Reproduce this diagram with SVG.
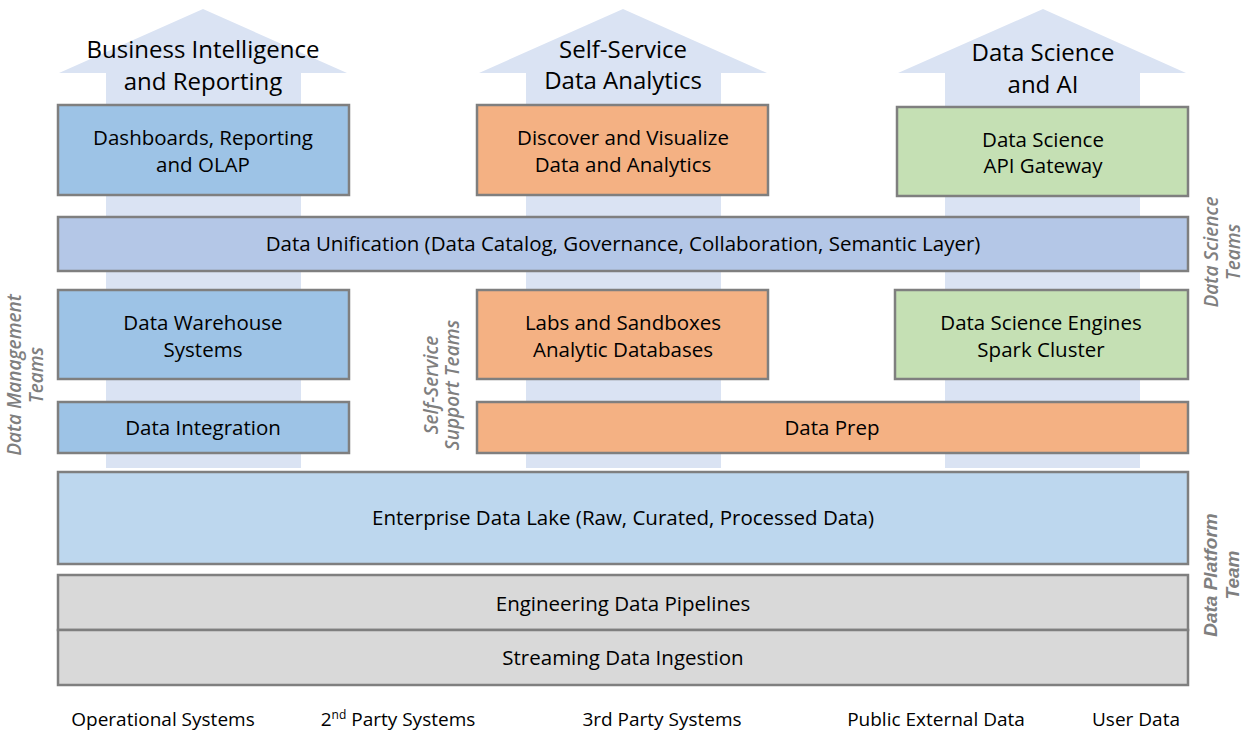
<svg xmlns="http://www.w3.org/2000/svg" width="1244" height="734" viewBox="0 0 1244 734">
<style>
.arrow{fill:#dae3f3}
.box{stroke:#7f7f7f;stroke-width:2.5}
.blue{fill:#9dc3e6}
.orange{fill:#f4b183}
.green{fill:#c5e0b4}
.uni{fill:#b4c7e7}
.lake{fill:#bdd7ee}
.grey{fill:#d9d9d9}
text{font-family:"Open Sans","Noto Sans",sans-serif;fill:#000;text-anchor:middle}
.t{font-size:20.5px}
.h{font-size:24px}
.side{font-size:19px;font-style:italic;font-weight:600;fill:#7f7f7f}
.side2{font-family:"Liberation Sans",Arial,sans-serif;font-size:19px;font-style:italic;font-weight:bold;fill:#7f7f7f}
.src{font-size:19px}
</style>
<g id="connectors">
<polygon id="arrow-bi" class="arrow" points="203,9 347,73 301,73 301,468 106,468 106,73 59,73"/>
<polygon id="arrow-ss" class="arrow" points="623,9 767,73 721,73 721,468 526,468 526,73 479,73"/>
<polygon id="arrow-ds" class="arrow" points="1043,9 1186,73 1140,73 1140,468 945,468 945,73 898,73"/>
</g>
<g id="title-bi"><text class="h" x="203" y="58">Business Intelligence</text><text class="h" x="203" y="90">and Reporting</text></g>
<g id="title-ss"><text class="h" x="623" y="58">Self-Service</text><text class="h" x="623" y="89">Data Analytics</text></g>
<g id="title-ds"><text class="h" x="1043" y="61">Data Science</text><text class="h" x="1043" y="93">and AI</text></g>

<g id="dashboards"><rect class="box blue" x="58" y="105" width="291" height="90"/><text class="t" x="203" y="145">Dashboards, Reporting</text><text class="t" x="203" y="172">and OLAP</text></g>
<g id="discover"><rect class="box orange" x="477" y="105" width="291" height="90"/><text class="t" x="623" y="145">Discover and Visualize</text><text class="t" x="623" y="172">Data and Analytics</text></g>
<g id="api-gateway"><rect class="box green" x="897" y="107" width="291" height="89"/><text class="t" x="1043" y="147">Data Science</text><text class="t" x="1043" y="173">API Gateway</text></g>

<g id="unification"><rect class="box uni" x="58" y="217" width="1130" height="54"/><text class="t" x="623" y="251">Data Unification (Data Catalog, Governance, Collaboration, Semantic Layer)</text></g>

<g id="warehouse"><rect class="box blue" x="58" y="290" width="291" height="89"/><text class="t" x="203" y="330">Data Warehouse</text><text class="t" x="203" y="357">Systems</text></g>
<g id="labs"><rect class="box orange" x="477" y="290" width="291" height="89"/><text class="t" x="623" y="330">Labs and Sandboxes</text><text class="t" x="623" y="357">Analytic Databases</text></g>
<g id="engines"><rect class="box green" x="895" y="290" width="293" height="89"/><text class="t" x="1041" y="330">Data Science Engines</text><text class="t" x="1041" y="357">Spark Cluster</text></g>

<g id="integration"><rect class="box blue" x="58" y="402" width="291" height="51"/><text class="t" x="203" y="435">Data Integration</text></g>
<g id="prep"><rect class="box orange" x="477" y="402" width="711" height="51"/><text class="t" x="832" y="435">Data Prep</text></g>

<g id="lake"><rect class="box lake" x="58" y="472" width="1130" height="92"/><text class="t" x="623" y="525">Enterprise Data Lake (Raw, Curated, Processed Data)</text></g>
<g id="pipelines"><rect class="box grey" x="58" y="575" width="1130" height="55"/><text class="t" x="623" y="611">Engineering Data Pipelines</text></g>
<g id="streaming"><rect class="box grey" x="58" y="630" width="1130" height="55"/><text class="t" x="623" y="665">Streaming Data Ingestion</text></g>

<g id="label-dm"><text class="side" transform="translate(21,375) rotate(-90)">Data Management</text><text class="side" transform="translate(43,375) rotate(-90)">Teams</text></g>
<g id="label-ss"><text class="side" transform="translate(438,385) rotate(-90)">Self-Service</text><text class="side" transform="translate(459,385) rotate(-90)">Support Teams</text></g>
<g id="label-ds"><text class="side" transform="translate(1218,252) rotate(-90)">Data Science</text><text class="side" transform="translate(1240,252) rotate(-90)">Teams</text></g>
<g id="label-dp"><text class="side2" transform="translate(1217,575) rotate(-90)">Data Platform</text><text class="side2" transform="translate(1239,575) rotate(-90)">Team</text></g>

<g id="sources">
<text class="src" x="163" y="726">Operational Systems</text>
<text class="src" x="398" y="726">2<tspan font-size="12" dy="-7">nd</tspan><tspan dy="7"> Party Systems</tspan></text>
<text class="src" x="662" y="726">3rd Party Systems</text>
<text class="src" x="936" y="726">Public External Data</text>
<text class="src" x="1136" y="726">User Data</text>
</g>
</svg>
